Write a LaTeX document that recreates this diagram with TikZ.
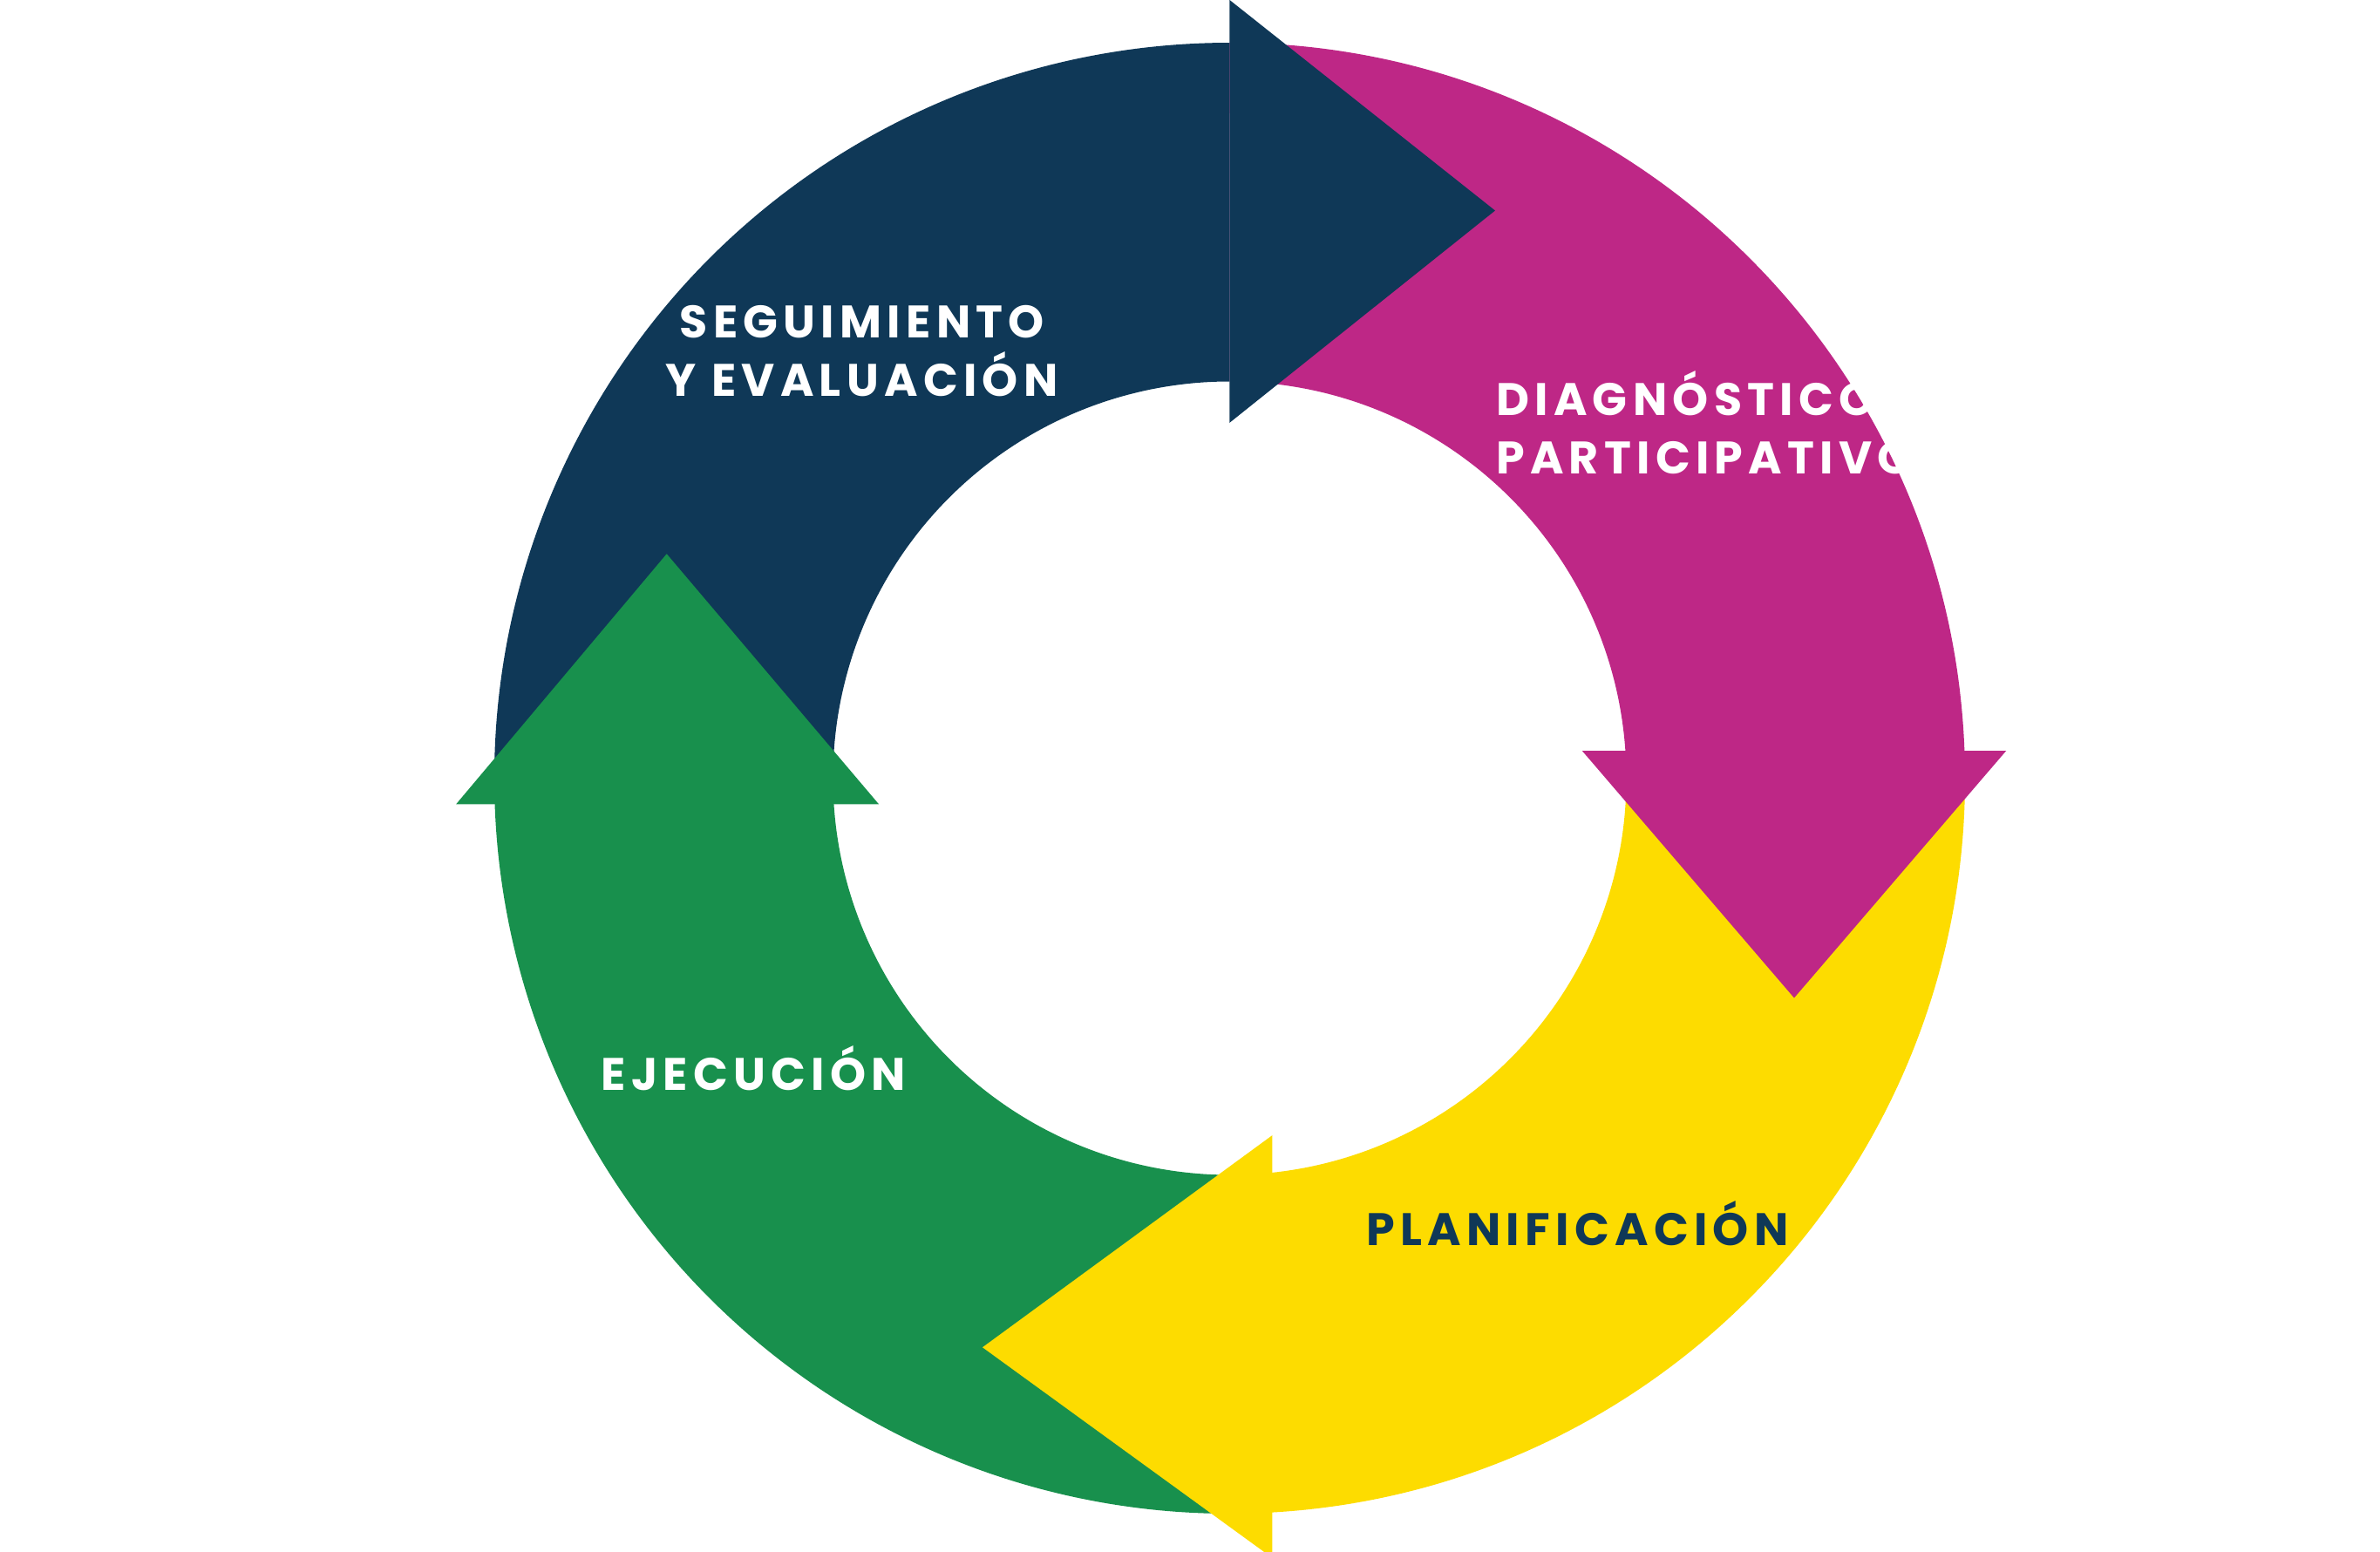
\documentclass[tikz,border=0pt]{standalone}
\usepackage{fontspec}
\newfontfamily\labelfont[LetterSpace=12,BoldFont={* Bold}]{Poppins}
\definecolor{navyblue}{HTML}{0F3857}
\definecolor{magentared}{HTML}{BE2786}
\definecolor{sunyellow}{HTML}{FDDC00}
\definecolor{leafgreen}{HTML}{18904D}
\newcommand{\band}[3]{
    \fill[#1] (#2:482) arc[start angle=#2, end angle=#3, radius=48.2mm]
        -- (#3:260) arc[start angle=#3, end angle=#2, radius=26mm] -- cycle;\ignorespaces
}
\begin{document}
\begin{tikzpicture}[x=0.1mm, y=0.1mm,
    stage/.style={font=\labelfont\bfseries\fontsize{8.5}{11}\selectfont, text=white, align=center, inner sep=0pt}]
    \useasboundingbox (-806,-507) rectangle (754,510);
    % bands of the cycle
    \band{navyblue}{182}{90}
    \band{magentared}{90}{2}
    \band{sunyellow}{2}{-87}
    \band{leafgreen}{-87}{-178}
    % arrow heads
    \fill[leafgreen] (-507,-17) -- (-369,147) -- (-230,-17) -- cycle;
    \fill[magentared] (231,18) -- (509,18) -- (370,-144) -- cycle;
    \fill[sunyellow] (28,-234) -- (-162,-373) -- (28,-511) -- cycle;
    \fill[navyblue] (0,510) -- (174,372) -- (0,233) -- cycle;
    % labels
    \node[stage] (seguimiento) at (-241,280) {SEGUIMIENTO\\Y EVALUACIÓN};
    \node[stage, align=left, anchor=west] (diagnostico) at (174,233) {DIAGNÓSTICO\\PARTICIPATIVO};
    \node[stage, text=navyblue] (planificacion) at (228,-292) {PLANIFICACIÓN};
    \node[stage] (ejecucion) at (-312,-190) {EJECUCIÓN};
\end{tikzpicture}
\end{document}
